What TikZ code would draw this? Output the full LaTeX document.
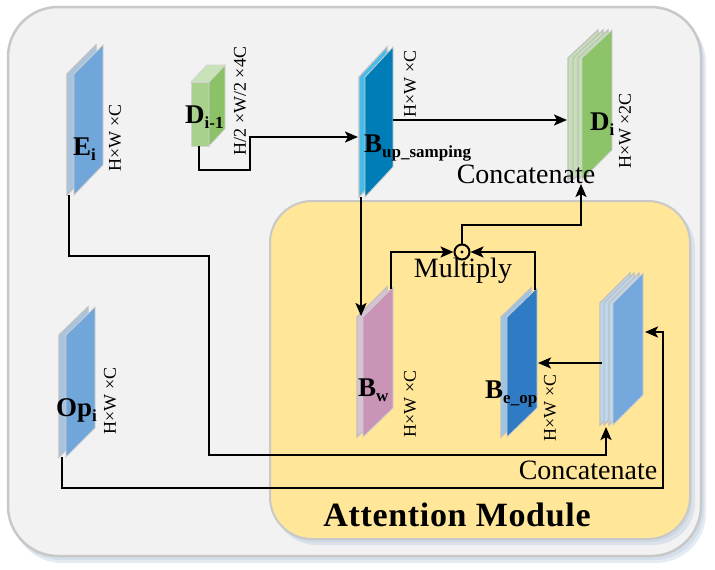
\documentclass[tikz,border=0pt]{standalone}
\usepackage{fontspec}
\setmainfont{Liberation Serif}
\usetikzlibrary{arrows.meta}
\definecolor{outerfill}{HTML}{F2F2F2}
\definecolor{outeredge}{HTML}{C8C8C8}
\definecolor{attfill}{HTML}{FFE699}
\definecolor{slabedge}{HTML}{C0C0C0}
\definecolor{blueA}{HTML}{70A6DA}
\definecolor{blueAstrip}{HTML}{A9C4DF}
\definecolor{teal}{HTML}{007DB6}
\definecolor{tealstrip}{HTML}{45BDEB}
\definecolor{greenD}{HTML}{8DC46A}
\definecolor{greenstrip}{HTML}{C5E0B4}
\definecolor{greenfront}{HTML}{A9D18E}
\definecolor{greenside}{HTML}{8BC267}
\definecolor{greentop}{HTML}{C9E3B8}
\definecolor{pinkW}{HTML}{C994B5}
\definecolor{pinkstrip}{HTML}{D8C2D4}
\definecolor{blueE}{HTML}{2F7CC4}
\definecolor{blueEstrip}{HTML}{9DC3E6}
\definecolor{blueC}{HTML}{75A8DC}
\definecolor{blueCstrip}{HTML}{BDD7EE}
\definecolor{shadowblue}{HTML}{B4C7DC}
\newcommand{\mkslab}[7]{%
  \coordinate (#1-tl) at (#2,#4);
  \coordinate (#1-tr) at (#3,#5);
  \coordinate (#1-bl) at (#2,#6);
  \coordinate (#1-br) at (#3,#7);}
\newcommand{\slablayer}[3]{%
  \filldraw[#3] ([xshift=#2]#1-tl) -- ([xshift=#2]#1-tr) -- ([xshift=#2]#1-br) -- ([xshift=#2]#1-bl) -- cycle;}
\newcommand{\blab}[2]{{\fontsize{27}{27}\selectfont\bfseries #1\raisebox{-0.22em}{\fontsize{17}{17}\selectfont #2}}}
\begin{document}
\begin{tikzpicture}[x=1pt,y=-1pt,
  conn/.style={line width=2.3pt, -{Stealth[length=13pt,width=11pt,inset=3pt]}},
  dimlab/.style={rotate=90, font=\fontsize{18}{18}\selectfont, inner sep=0pt},
  lab/.style={inner sep=0pt, anchor=base west},
  bigtxt/.style={inner sep=0pt, font=\fontsize{28}{28}\selectfont},
  stripsty/.style={fill=#1, draw=slabedge, line width=1.2pt},
  frontsty/.style={fill=#1, draw=slabedge!80, line width=0.8pt},
  softshadow/.style={fill=shadowblue, opacity=0.35},
]
\useasboundingbox (0,0) rectangle (715,570);
% outer panel with soft shadow
\fill[softshadow, rounded corners=50pt] (12,13) rectangle (706,563);
\fill[softshadow, rounded corners=50pt] (10,10) rectangle (704,560);
\path[fill=outerfill, draw=outeredge, line width=2.5pt, rounded corners=50pt]
  (8,7) rectangle (701,556);
% attention module panel with soft shadow
\fill[softshadow, rounded corners=42pt] (274,206) rectangle (695,545);
\fill[softshadow, rounded corners=42pt] (272,203) rectangle (692,542);
\path[fill=attfill, draw=outeredge, line width=2pt, rounded corners=42pt]
  (270,201) rectangle (690,539);

% slabs geometry
\mkslab{E}{74}{103}{74}{45}{195}{165}
\mkslab{Op}{66}{95}{335}{307}{457}{428}
\mkslab{Bup}{365}{393}{77}{47}{197}{167}
\mkslab{Di}{582}{612}{58}{30}{180}{150}
\mkslab{Bw}{363}{393}{317}{287}{437}{408}
\mkslab{Be}{507}{537}{317}{288}{437}{408}
\mkslab{Cat}{613}{643}{303}{273}{425}{395}

% E_i
\slablayer{E}{-7pt}{stripsty=blueAstrip}
\slablayer{E}{0pt}{frontsty=blueA}
% Op_i
\slablayer{Op}{-7pt}{stripsty=blueAstrip}
\slablayer{Op}{0pt}{frontsty=blueA}
% B_up
\slablayer{Bup}{-6pt}{stripsty=tealstrip}
\slablayer{Bup}{0pt}{frontsty=teal}
% D_i
\slablayer{Di}{-14pt}{stripsty=greenstrip}
\slablayer{Di}{-9pt}{stripsty=greenstrip}
\slablayer{Di}{-4pt}{stripsty=greenstrip}
\slablayer{Di}{0pt}{frontsty=greenD}
% B_w
\slablayer{Bw}{-6pt}{stripsty=pinkstrip}
\slablayer{Bw}{0pt}{frontsty=pinkW}
% B_e_op
\slablayer{Be}{-6pt}{stripsty=blueEstrip}
\slablayer{Be}{0pt}{frontsty=blueE}
% concatenated slab
\slablayer{Cat}{-13pt}{stripsty=blueCstrip}
\slablayer{Cat}{-9pt}{stripsty=blueCstrip}
\slablayer{Cat}{-4pt}{stripsty=blueCstrip}
\slablayer{Cat}{0pt}{frontsty=blueC}

% D_{i-1} cuboid
\coordinate (Dm-tl) at (191,82);
\coordinate (Dm-tr) at (209,82);
\coordinate (Dm-bl) at (191,146);
\coordinate (Dm-br) at (209,146);
\filldraw[fill=greenfront, draw=slabedge!70, line width=0.8pt]
  (Dm-tl) -- (Dm-tr) -- (Dm-br) -- (Dm-bl) -- cycle;
\filldraw[fill=greenside, draw=slabedge!70, line width=0.8pt]
  (Dm-tr) -- ++(16,-17) -- ++(0,64) -- (Dm-br) -- cycle;
\filldraw[fill=greentop, draw=slabedge!70, line width=0.8pt]
  (Dm-tl) -- (Dm-tr) -- ++(16,-17) -- ++(-18,0) -- cycle;

% labels
\node[lab] (Elab) at (73,155) {\blab{E}{i}};
\node[lab] (Dmlab) at (185,123) {\blab{D}{i-1}};
\node[lab] (Buplab) at (364,152) {\blab{B}{up\_samping}};
\node[lab] (Dilab) at (590,130) {\blab{D}{i}};
\node[lab] (Bwlab) at (358,396) {\blab{B}{w}};
\node[lab] (Belab) at (485,398) {\blab{B}{e\_op}};
\node[lab] (Oplab) at (56,416) {\blab{Op}{i}};

\node[dimlab] (Edim) at (115,138) {H×W ×C};
\node[dimlab] (Dmdim) at (240,101) {H/2 ×W/2 ×4C};
\node[dimlab] (Bupdim) at (410,84) {H×W ×C};
\node[dimlab] (Didim) at (625,131) {H×W ×2C};
\node[dimlab] (Bwdim) at (410,404) {H×W ×C};
\node[dimlab] (Bedim) at (550,408) {H×W ×C};
\node[dimlab] (Opdim) at (110,401) {H×W ×C};

\node[bigtxt] (cat1) at (526,174) {Concatenate};
\node[bigtxt] (cat2) at (588,470) {Concatenate};
\node[bigtxt] (multxt) at (463,271) {Multiply};
\node[inner sep=0pt, font=\fontsize{34}{34}\selectfont\bfseries\addfontfeature{LetterSpace=2}] (att) at (457,515) {Attention Module};

% multiply symbol
\node[circle, draw, line width=2pt, minimum size=15pt, inner sep=0pt] (mul) at (462,252) {};
\fill (mul.center) circle[radius=1.6pt];

% connectors
\coordinate (Estart) at ([xshift=-5pt]E-bl);
\coordinate (Catbot) at ([xshift=-7pt,yshift=-2pt]Cat-bl);
\draw[conn] (Estart) |- (209,256) -- (209,455) -| (Catbot);

\coordinate (Opstart) at ([xshift=-4pt]Op-bl);
\coordinate (Catright) at (645,332);
\draw[conn] (Opstart) |- (663,488) |- (Catright);

\coordinate (Dmstart) at (199,146);
\coordinate (Bupleft) at (358,137);
\draw[conn] (Dmstart) |- (250,170) |- (Bupleft);

\coordinate (Bupright) at (393,120);
\coordinate (Dileft) at (567,120);
\draw[conn] (Bupright) -- (Dileft);

\coordinate (Bupbot) at (361,197);
\coordinate (Bwtop) at (361,316);
\draw[conn] (Bupbot) -- (Bwtop);

\coordinate (Bwstart) at (391,289);
\draw[conn] (Bwstart) |- (mul.west);
\coordinate (Bestart) at (535,290);
\draw[conn] (Bestart) |- (mul.east);

\coordinate (Dibot) at (581,184);
\draw[conn] (mul.north) |- (581,225) -- (Dibot);

\coordinate (Catleft) at (602,363);
\coordinate (Beright) at (538,363);
\draw[conn] (Catleft) -- (Beright);
\end{tikzpicture}
\end{document}
